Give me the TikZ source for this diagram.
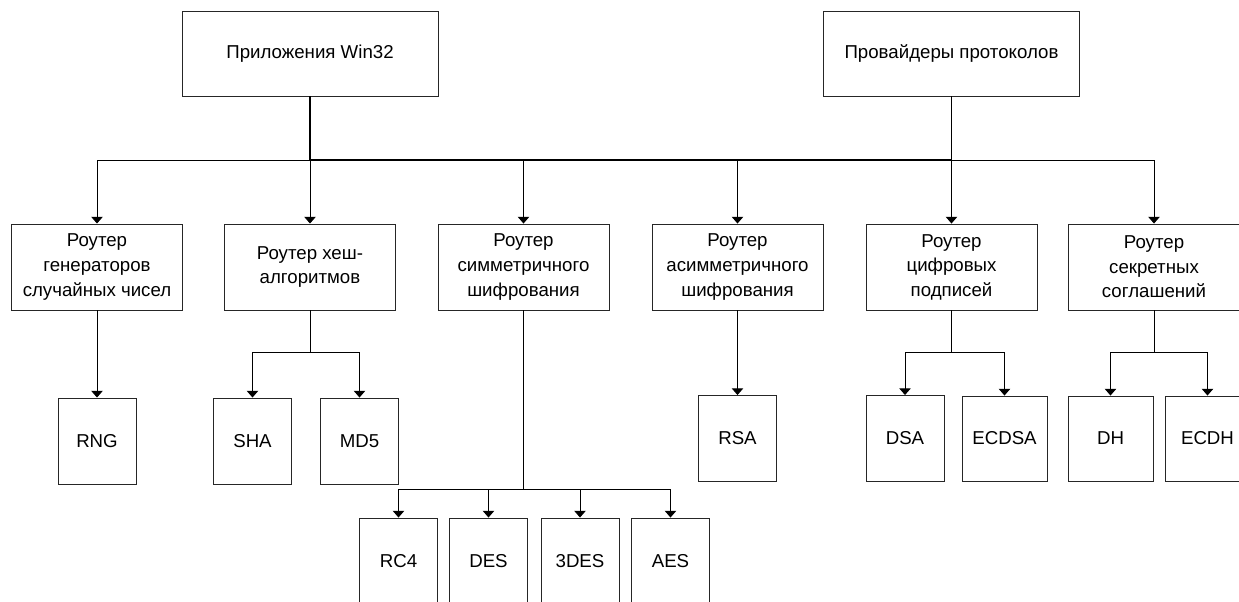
\documentclass[tikz,border=0pt]{standalone}
\usepackage{fontspec}
\setmainfont{Liberation Sans}
\usetikzlibrary{arrows.meta}
\begin{document}
\begin{tikzpicture}[x=0.75pt,y=-0.75pt,
  box/.style={draw=black!85, line width=0.7pt, align=center, inner sep=0pt,
    font=\fontsize{14pt}{18.4pt}\selectfont},
  topbox/.style={box, minimum width=192pt, minimum height=63.75pt},
  router/.style={box, minimum width=128.25pt, minimum height=64.5pt},
  leaf/.style={box, minimum width=58.5pt, minimum height=64.5pt},
  wleaf/.style={box, minimum width=63.75pt, minimum height=63.75pt},
  line/.style={draw=black, line width=0.75pt},
  thick line/.style={draw=black, line width=1.3pt},
  arr/.style={line, -{Triangle[width=8.5pt,length=5pt]}}]
\path[use as bounding box] (0,0) rectangle (1239,601);
\clip (0,0) rectangle (1239,601);
% top
\node[topbox] (app) at (310,53.5) {Приложения Win32};
\node[topbox] (prov) at (951.5,53.5) {Провайдеры протоколов};
% routers
\node[router] (r1) at (97,267) {Роутер\\генераторов\\случайных чисел};
\node[router] (r2) at (310,267) {Роутер хеш-\\алгоритмов};
\node[router] (r3) at (523.5,267) {Роутер\\симметричного\\шифрования};
\node[router] (r4) at (737.5,267) {Роутер\\асимметричного\\шифрования};
\node[router] (r5) at (951.5,267) {Роутер\\цифровых\\подписей};
\node[router] (r6) at (1154,267) {Роутер\\секретных\\соглашений};
% leaves
\node[leaf] (rng) at (97,441) {RNG};
\node[leaf] (sha) at (252.5,441) {SHA};
\node[leaf] (md5) at (359.5,441) {MD5};
\node[leaf] (rsa) at (737.5,438.5) {RSA};
\node[leaf] (dsa) at (905,438.5) {DSA};
\node[wleaf] (ecdsa) at (1004.5,438.5) {ECDSA};
\node[wleaf] (dh) at (1110.5,438.5) {DH};
\node[wleaf] (ecdh) at (1207.5,438.5) {ECDH};
\node[leaf] (rc4) at (398.5,561) {RC4};
\node[leaf] (des) at (488.5,561) {DES};
\node[leaf] (tdes) at (580,561) {3DES};
\node[leaf] (aes) at (670.5,561) {AES};
% buses
\coordinate (b1) at (0,160);
\coordinate (b2) at (0,352);
\coordinate (b3) at (0,489);
\draw[line] (r1.north |- b1) -- (r6.north |- b1);
\draw[thick line] (app.south) -- (app.south |- b1) -- (prov.south |- b1);
\draw[line] (prov.south) -- (prov.south |- b1);
\foreach \r in {r1,r2,r3,r4,r5,r6}
  \draw[arr] (\r.north |- b1) -- (\r.north);
% level 2
\draw[arr] (r1.south) -- (rng.north);
\draw[arr] (r4.south) -- (rsa.north);
\draw[line] (r2.south) -- (r2.south |- b2);
\draw[arr] (r2.south |- b2) -| (sha.north);
\draw[arr] (r2.south |- b2) -| (md5.north);
\draw[line] (r5.south) -- (r5.south |- b2);
\draw[arr] (r5.south |- b2) -| (dsa.north);
\draw[arr] (r5.south |- b2) -| (ecdsa.north);
\draw[line] (r6.south) -- (r6.south |- b2);
\draw[arr] (r6.south |- b2) -| (dh.north);
\draw[arr] (r6.south |- b2) -| (ecdh.north);
% level 3
\draw[thick line] (r3.south) -- (r3.south |- b3);
\foreach \l in {rc4,des,tdes,aes}
  \draw[arr] (r3.south |- b3) -| (\l.north);
\end{tikzpicture}
\end{document}
